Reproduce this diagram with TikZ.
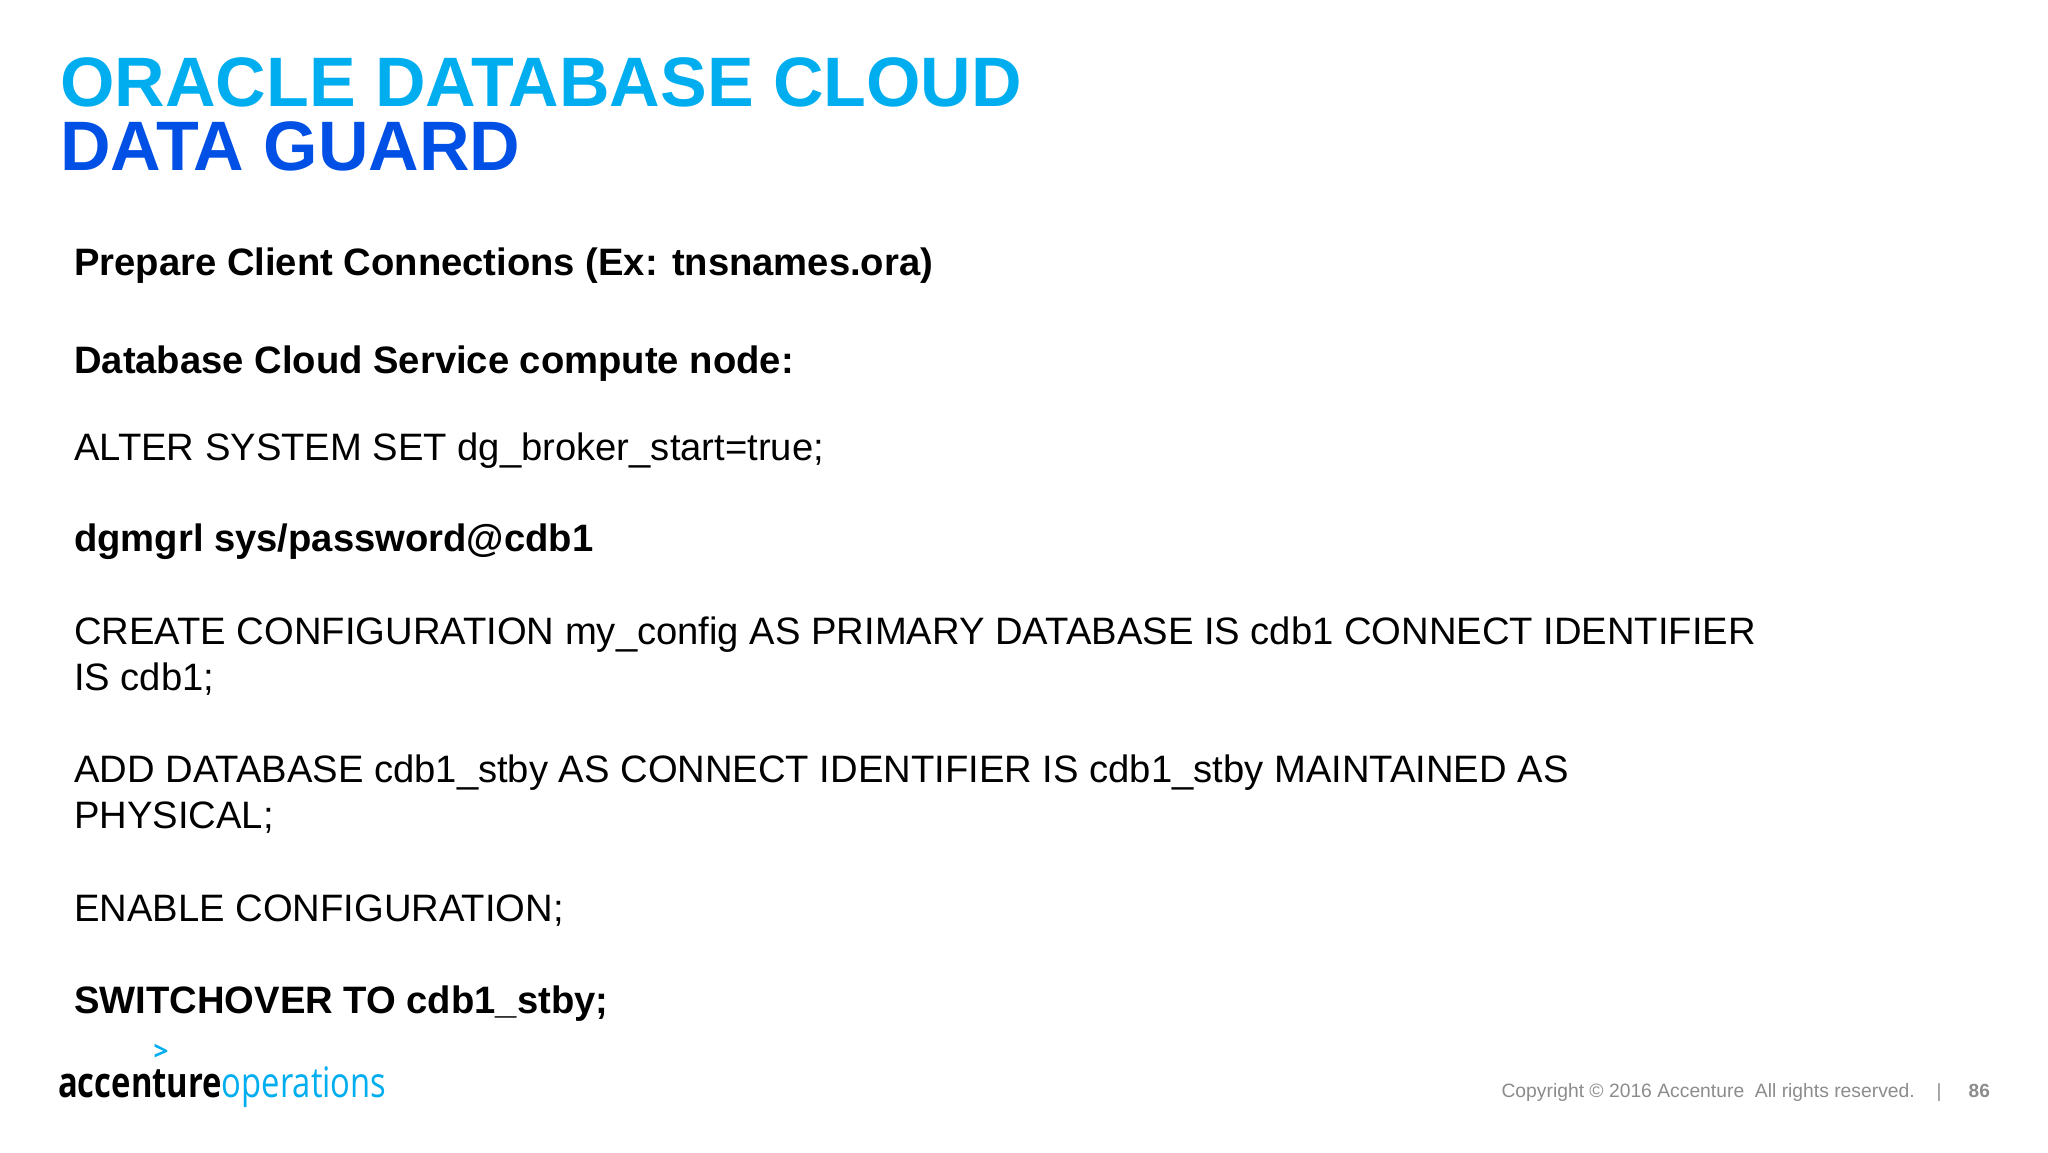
\documentclass[tikz,border=0pt]{standalone}
\usepackage{fontspec}
\setmainfont{Liberation Sans}
\newfontfamily\logofont{Open Sans}
\definecolor{tcyan}{HTML}{00AEEF}
\definecolor{tblue}{HTML}{0050E6}
\definecolor{fgrey}{HTML}{8C8C8C}
\begin{document}
\begin{tikzpicture}[x=1pt,y=-1pt,
  body/.style={anchor=base west,inner sep=0pt,font=\fontsize{38.2}{44}\selectfont},
  bbody/.style={body,font=\fontsize{38.2}{44}\selectfont\bfseries},
  ttl/.style={anchor=base west,inner sep=0pt,font=\fontsize{70}{80}\selectfont\bfseries}]
\useasboundingbox (0,0) rectangle (2048,1152);
\fill[white] (0,0) rectangle (2048,1152);
\node[ttl,text=tcyan] (t1) at (60,106) {ORACLE DATABASE CLOUD};
\node[ttl,text=tblue] (t2) at (60,170) {DATA GUARD};
\node[bbody] (l1) at (74,275) {Prepare Client Connections (Ex: tnsnames.ora)};
\node[bbody] (l2) at (74,373) {Database Cloud Service compute node:};
\node[body] (l3) at (74,460) {ALTER SYSTEM SET dg\_broker\_start=true;};
\node[bbody] (l4) at (74,551) {dgmgrl sys/password@cdb1};
\node[body] (l5) at (74,644) {CREATE CONFIGURATION my\_config AS PRIMARY DATABASE IS cdb1 CONNECT IDENTIFIER};
\node[body] (l6) at (74,690) {IS cdb1;};
\node[body] (l7) at (74,782) {ADD DATABASE cdb1\_stby AS CONNECT IDENTIFIER IS cdb1\_stby MAINTAINED AS};
\node[body] (l8) at (74,828) {PHYSICAL;};
\node[body] (l9) at (74,921) {ENABLE CONFIGURATION;};
\node[bbody] (l10) at (74,1013) {SWITCHOVER TO cdb1\_stby;};
\node[anchor=base west,inner sep=0pt,font=\logofont\fontsize{42}{42}\selectfont] (logo) at (58,1097)
  {\addfontfeature{FakeStretch=0.78}\textbf{accenture}\textcolor{tcyan}{operations}};
\node[anchor=base,inner sep=0pt,text=tcyan,font=\logofont\fontsize{26}{26}\selectfont\bfseries] (chev) at (161,1060) {>};
\node[anchor=base east,inner sep=0pt,text=fgrey,font=\fontsize{19.3}{19}\selectfont] (copy) at (1915,1097) {Copyright \textcopyright\ 2016 Accenture\ \ All rights reserved.};
\node[anchor=base,inner sep=0pt,text=fgrey,font=\fontsize{19}{19}\selectfont] (bar) at (1939,1097) {|};
\node[anchor=base east,inner sep=0pt,text=fgrey,font=\fontsize{19}{19}\selectfont\bfseries] (pg) at (1990,1097) {86};
\end{tikzpicture}
\end{document}
